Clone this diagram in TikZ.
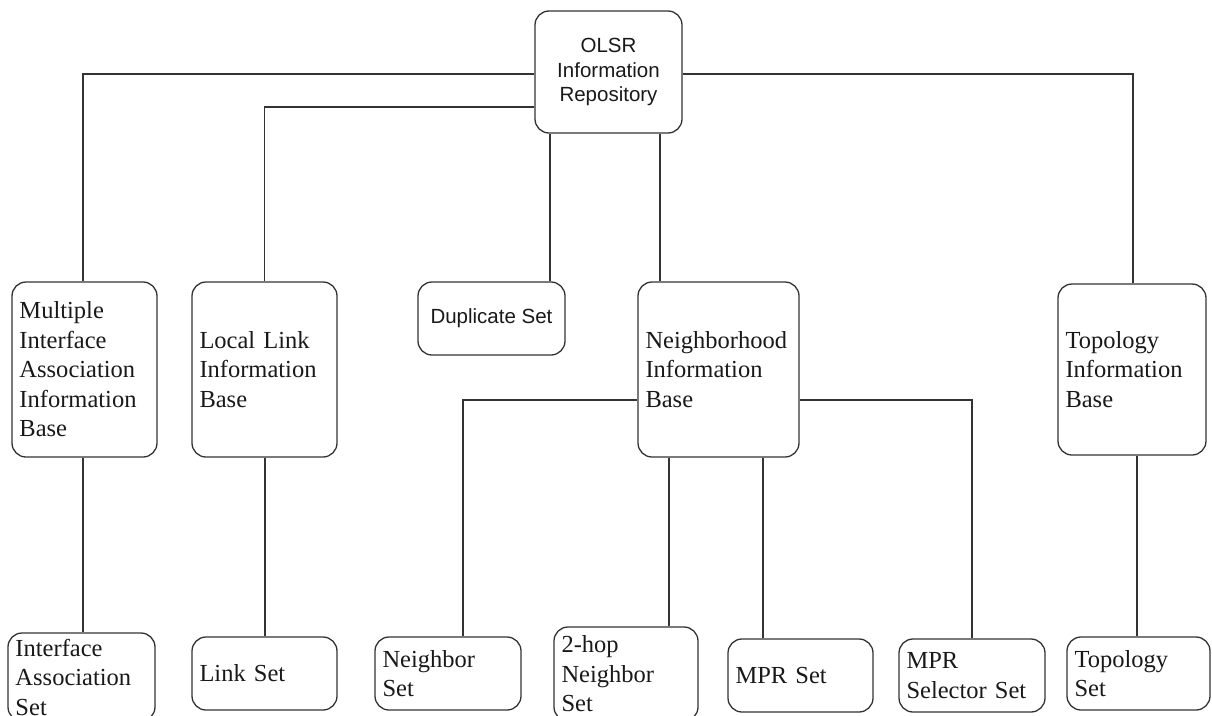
\documentclass[tikz,border=0pt]{standalone}
\usepackage{fontspec}
\setmainfont{Liberation Serif}
\newfontfamily\sansf{Liberation Sans}
\begin{document}
\begin{tikzpicture}[x=1pt,y=-1pt,
  every node/.style={inner sep=0pt},
  base/.style={draw=black!80, line width=1.3pt, rounded corners=14pt,
    text=black!90},
  serifbox/.style={base, align=left, inner xsep=7.5pt, inner ysep=0pt,
    font=\fontsize{24.5}{29.5}\selectfont},
  sansbox/.style={base, align=center, inner ysep=0pt,
    font=\sansf\fontsize{20.5}{24.5}\selectfont},
  link/.style={draw=black!80, line width=1.3pt}]
\useasboundingbox (0,0) rectangle (1212,715);

% root
\node[sansbox, minimum width=147pt, minimum height=122pt] (olsr) at (608.5,72)
  {OLSR\\Information\\Repository};

% information bases
\node[serifbox, text width=130pt, minimum height=175pt] (miiab) at (84.5,369.5)
  {Multiple\\Interface\\Association\\Information\\Base};
\node[serifbox, text width=130pt, minimum height=175pt] (llib) at (264.5,369.5)
  {Local Link\\Information\\Base};
\node[sansbox, minimum width=147pt, minimum height=73pt] (dup) at (491.5,318.5)
  {Duplicate Set};
\node[serifbox, text width=146pt, minimum height=175pt] (nib) at (718.5,369.5)
  {Neighborhood\\Information\\Base};
\node[serifbox, text width=133pt, minimum height=171pt] (tib) at (1132,369.5)
  {Topology\\Information\\Base};

% sets
\node[serifbox, text width=132pt, minimum height=88pt] (ias) at (81.5,677)
  {Interface\\Association\\Set};
\node[serifbox, text width=130pt, minimum height=73pt] (lset) at (264.5,673.5)
  {Link Set};
\node[serifbox, text width=131pt, minimum height=73pt] (nbr) at (448,673.5)
  {Neighbor\\Set};
\node[serifbox, text width=129pt, minimum height=94pt] (hop) at (626,674)
  {2-hop\\Neighbor\\Set};
\node[serifbox, text width=130pt, minimum height=73pt] (mpr) at (800.5,675.5)
  {MPR Set};
\node[serifbox, text width=131pt, minimum height=73pt] (mprs) at (972,675.5)
  {MPR\\Selector Set};
\node[serifbox, text width=128pt, minimum height=73pt] (topo) at (1138.5,673.5)
  {Topology\\Set};

% root connectors
\draw[link] ([yshift=-2pt]olsr.west) -| ([xshift=-1.5pt]miiab.north);
\draw[link] ([yshift=-35pt]olsr.west) -| (llib.north);
\draw[link] ([yshift=-2pt]olsr.east) -| ([xshift=1pt]tib.north);
\draw[link] ([xshift=-58.5pt]olsr.south) -- ([xshift=-58.5pt]olsr.south |- dup.north);
\draw[link] ([xshift=51.5pt]olsr.south) -- ([xshift=51.5pt]olsr.south |- nib.north);

% base-to-set connectors
\draw[link] ([xshift=-1.5pt]miiab.south) -- ([xshift=-1.5pt]miiab.south |- ias.north);
\draw[link] ([xshift=0.5pt]llib.south) -- ([xshift=0.5pt]lset.north);
\draw[link] ([yshift=-30.5pt]nib.west) -| ([xshift=15pt]nbr.north);
\draw[link] ([xshift=-49.5pt]nib.south) -- ([xshift=-49.5pt]nib.south |- hop.north);
\draw[link] ([xshift=44.5pt]nib.south) -- ([xshift=44.5pt]nib.south |- mpr.north);
\draw[link] ([yshift=-30.5pt]nib.east) -| (mprs.north);
\draw[link] ([xshift=5pt]tib.south) -- ([xshift=5pt]tib.south |- topo.north);
\end{tikzpicture}
\end{document}
